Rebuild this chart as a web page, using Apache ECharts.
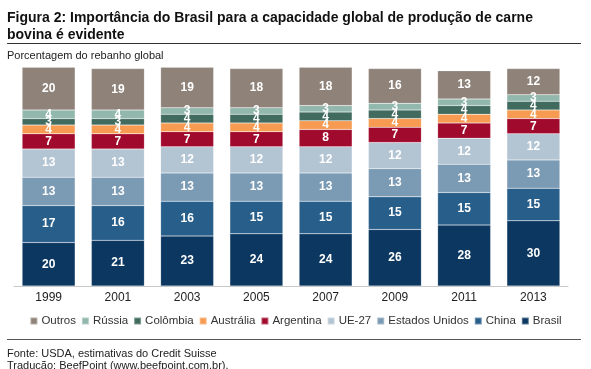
<!DOCTYPE html>
<html>
<head>
<meta charset="utf-8">
<script src="https://cdn.jsdelivr.net/npm/echarts@6/dist/echarts.min.js"></script>
<style>
html,body{margin:0;padding:0;background:#fff;}
#c{width:591px;height:369px;}
</style>
</head>
<body>
<div id="c"></div>
<script>
var years = ['1999','2001','2003','2005','2007','2009','2011','2013'];
var brasil        = [20, 21, 23, 24, 24, 26, 28, 30];
var china         = [17, 16, 16, 15, 15, 15, 15, 15];
var estadosUnidos = [13, 13, 13, 13, 13, 13, 13, 13];
var ue27          = [13, 13, 12, 12, 12, 12, 12, 12];
var argentina     = [7, 7, 7, 7, 8, 7, 7, 7];
var australia     = [4, 4, 4, 4, 4, 4, 4, 4];
var colombia      = [3, 3, 4, 4, 4, 4, 4, 4];
var russia        = [4, 4, 3, 3, 3, 3, 3, 3];
var outros        = [20, 19, 19, 18, 18, 16, 13, 12];

var FONT = '"Liberation Sans", Arial, Helvetica, sans-serif';
var seriesDefs = [
  ['Brasil', brasil, '#0B3761'],
  ['China', china, '#285E8A'],
  ['Estados Unidos', estadosUnidos, '#7B9AB4'],
  ['UE-27', ue27, '#B3C4D3'],
  ['Argentina', argentina, '#A00A2D'],
  ['Austrália', australia, '#F69B51'],
  ['Colômbia', colombia, '#416B5E'],
  ['Rússia', russia, '#92B7AC'],
  ['Outros', outros, '#8E8279']
];
var series = seriesDefs.map(function(d){
  return {
    name: d[0], type: 'bar', stack: 'all', data: d[1],
    barWidth: 53,
    itemStyle: {color: d[2], borderColor: 'rgba(255,255,255,0.35)', borderWidth: 0.5},
    label: {show: true, position: 'inside', color: '#fff', fontWeight: 'bold',
            fontFamily: FONT, fontSize: 12},
    emphasis: {disabled: true}
  };
});
var legendOrder = ['Outros','Rússia','Colômbia','Austrália','Argentina','UE-27','Estados Unidos','China','Brasil'];

var chart = echarts.init(document.getElementById('c'), null, {renderer: 'canvas'});
chart.setOption({
  animation: false,
  backgroundColor: '#fff',
  grid: {left: 14, right: 23, top: 67.5, bottom: 83, containLabel: false},
  xAxis: {
    type: 'category', data: years,
    axisLine: {show: true, lineStyle: {color: '#c8c8c8', width: 1}},
    axisTick: {show: false},
    axisLabel: {color: '#222', fontFamily: FONT, fontSize: 12, margin: 6}
  },
  yAxis: {type: 'value', min: 0, max: 100.5, show: false, splitLine: {show: false}},
  legend: {
    data: legendOrder, bottom: 37, left: 'center',
    icon: 'rect', itemWidth: 7, itemHeight: 7, itemGap: 5,
    textStyle: {color: '#333', fontFamily: FONT, fontSize: 11.5, padding: [0,0,0,-1]}
  },
  series: series,
  graphic: [
    {type: 'text', left: 7, top: 10, style: {
      text: 'Figura 2: Importância do Brasil para a capacidade global de produção de carne\nbovina é evidente',
      font: 'bold 14px ' + FONT, fill: '#111', lineHeight: 17}},
    {type: 'line', shape: {x1: 7, y1: 43.5, x2: 581, y2: 43.5}, style: {stroke: '#333', lineWidth: 1}},
    {type: 'text', left: 7, top: 50, style: {
      text: 'Porcentagem do rebanho global', font: '11px ' + FONT, fill: '#222'}},
    {type: 'line', shape: {x1: 7, y1: 339.5, x2: 581, y2: 339.5}, style: {stroke: '#555', lineWidth: 1}},
    {type: 'text', left: 7, top: 347.5, style: {
      text: 'Fonte: USDA, estimativas do Credit Suisse\nTradução: BeefPoint (www.beefpoint.com.br).',
      font: '11px ' + FONT, fill: '#222', lineHeight: 12.5}}
  ]
});
</script>
</body>
</html>
